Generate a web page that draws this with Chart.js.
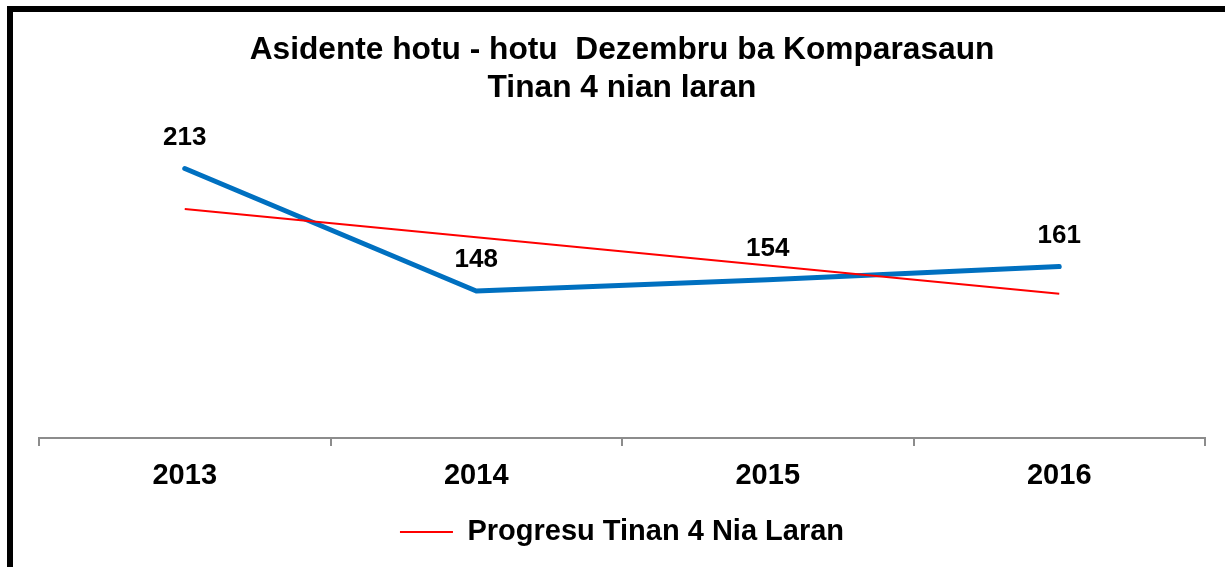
<!DOCTYPE html>
<html>
<head>
<meta charset="utf-8">
<script src="https://cdn.jsdelivr.net/npm/chart.js@4/dist/chart.umd.min.js"></script>
<style>
html,body{margin:0;padding:0;background:#fff;}
#wrap{width:1225px;height:567px;position:relative;}
</style>
</head>
<body>
<div id="wrap"><canvas id="c" width="1225" height="567"></canvas></div>
<script>

// data
const years=["2013","2014","2015","2016"];
const accidents=[213,148,154,161];
const progresu=[191.5,176.5,161.5,146.5];

const titleLines=["Asidente hotu - hotu  Dezembru ba Komparasaun","Tinan 4 nian laran"];
const trendLabel="Progresu Tinan 4 Nia Laran";

const FONT="'Liberation Sans', Arial, sans-serif";

// value labels above the blue line
const valueLabels={
    id:"valueLabels",
    afterDatasetsDraw(chart){
        let ctx=chart.ctx;
        let meta=chart.getDatasetMeta(1);
        ctx.save();
        ctx.font="bold 26px "+FONT;
        ctx.fillStyle="#000";
        ctx.textAlign="center";
        ctx.textBaseline="alphabetic";
        meta.data.forEach((pt,i)=>{
            ctx.fillText(String(accidents[i]),pt.x,pt.y-24);
        });
        ctx.restore();
    }
};

// the thick black frame of the slide
const frame={
    id:"frame",
    afterDraw(chart){
        let ctx=chart.ctx;
        ctx.save();
        ctx.strokeStyle="#000";
        ctx.lineWidth=6;
        ctx.strokeRect(10,9,1400,800);
        ctx.restore();
    }
};

new Chart(
    document.getElementById("c"),
    {
        type:"line",
        data:{
            labels:years,
            datasets:[
                {
                    label:trendLabel,
                    data:progresu,
                    borderColor:"#ff0000",
                    backgroundColor:"#ff0000",
                    borderWidth:2,
                    pointRadius:0,
                    tension:0,
                    order:0
                },
                {
                    label:"Asidente",
                    data:accidents,
                    borderColor:"#0070c0",
                    backgroundColor:"#0070c0",
                    borderWidth:5,
                    borderCapStyle:"round",
                    borderJoinStyle:"round",
                    pointRadius:0,
                    tension:0,
                    order:1
                }
            ]
        },
        options:{
            responsive:false,
            animation:false,
            layout:{
                padding:{left:39,right:20,top:0,bottom:10.5}
            },
            scales:{
                x:{
                    offset:true,
                    grid:{
                        offset:true,
                        drawOnChartArea:false,
                        drawTicks:true,
                        tickLength:8,
                        color:"#8c8c8c",
                        lineWidth:2
                    },
                    border:{
                        display:true,
                        color:"#8c8c8c",
                        width:2
                    },
                    ticks:{
                        color:"#000",
                        padding:12.6,
                        font:{family:FONT,size:29,weight:"bold"}
                    }
                },
                y:{
                    display:false,
                    min:70,
                    max:230
                }
            },
            plugins:{
                title:{
                    display:true,
                    text:titleLines,
                    color:"#000",
                    font:{family:FONT,size:31.7,weight:"bold",lineHeight:1.2},
                    padding:{top:31,bottom:29.4}
                },
                legend:{
                    position:"bottom",
                    labels:{
                        filter:item=>item.text==trendLabel,
                        color:"#000",
                        boxWidth:53,
                        boxHeight:0,
                        padding:11.5,
                        font:{family:FONT,size:29,weight:"bold"}
                    }
                },
                tooltip:{enabled:false}
            }
        },
        plugins:[valueLabels,frame]
    }
);
</script>
</body>
</html>
